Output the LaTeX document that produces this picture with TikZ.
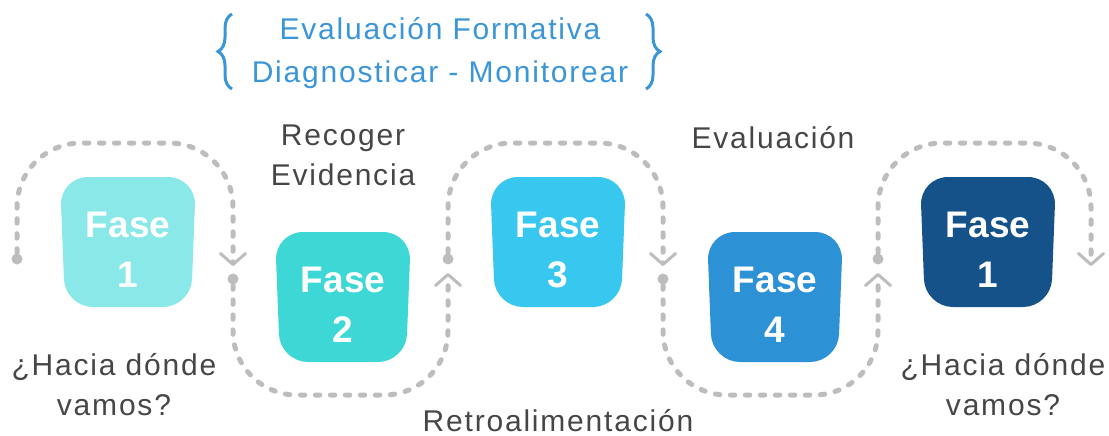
\documentclass[tikz,border=0pt]{standalone}
\usepackage{fontspec}
\usepackage{xcolor}
\usetikzlibrary{arrows.meta,decorations.pathreplacing}
\setmainfont{Liberation Sans}[LetterSpace=6]
\newfontfamily\fasefont{Liberation Sans}

\definecolor{gris}{HTML}{BDBDBD}
\definecolor{textogris}{HTML}{464646}
\definecolor{azultexto}{HTML}{3B96D9}
\definecolor{faseuno}{HTML}{8AE9E8}
\definecolor{fasedos}{HTML}{3DD8D5}
\definecolor{fasetres}{HTML}{38C8EF}
\definecolor{fasecuatro}{HTML}{2D91D5}
\definecolor{faseoscura}{HTML}{15528A}

\newcommand{\fasebox}[4]{%
  \fill[#3, rounded corners=14pt] ([shift={(-68,-65)}]#2) -- ([shift={(68,-65)}]#2)
    -- ([shift={(63,65)}]#2) -- ([shift={(-63,65)}]#2) -- cycle;
  \node[fasetexto] (#1) at ([shift={(0,8)}]#2) {Fase\\#4};
}

\begin{document}
\begin{tikzpicture}[x=0.5pt, y=-0.5pt,
    fasetexto/.style={text=white, align=center, inner sep=0pt,
      font=\fasefont\bfseries\fontsize{18.5}{25}\selectfont},
    rotulo/.style={text=textogris, align=center, inner sep=0pt, anchor=base,
      font=\fontsize{15}{20}\selectfont},
    punto/.style={circle, fill=gris, inner sep=0pt, minimum size=5.5pt},
    ruta/.style={draw=gris, line width=2.5pt, line cap=round, dash pattern=on 2.2pt off 5.3pt,
      rounded corners=32pt, -{Straight Barb[length=5.5pt, width=12.5pt, line width=1.5pt, round]}},
    llave/.style={draw=azultexto, line width=1.5pt, decorate,
      decoration={brace, amplitude=7pt}}]
  \useasboundingbox (0,0) rectangle (1109,435);

  \node[text=azultexto, align=center, inner sep=0pt, anchor=base,
    font=\fontsize{15}{21.5}\selectfont] (formativa) at (440,82)
    {Evaluación Formativa\\Diagnosticar - Monitorear};
  \draw[llave] (232,89) -- (232,14);
  \draw[llave] (646,14) -- (646,89);

  \fasebox{fase1}{128,242}{faseuno}{1}
  \fasebox{fase2}{343,297}{fasedos}{2}
  \fasebox{fase3}{558,242}{fasetres}{3}
  \fasebox{fase4}{775,297}{fasecuatro}{4}
  \fasebox{fase5}{988,242}{faseoscura}{1}

  \node[punto] (p1) at (17,259) {};
  \node[punto] (p2) at (233,279) {};
  \node[punto] (p3) at (448,259) {};
  \node[punto] (p4) at (663,279) {};
  \node[punto] (p5) at (878,259) {};
  \coordinate (t1) at (233,266);
  \coordinate (t2) at (448,273);
  \coordinate (t3) at (663,266);
  \coordinate (t4) at (878,273);
  \coordinate (t5) at (1091,266);

  \draw[ruta] (p1) -- (p1 |- 0,143) -- (t1 |- 0,143) -- (t1);
  \draw[ruta] (p2) -- (p2 |- 0,395) -- (t2 |- 0,395) -- (t2);
  \draw[ruta] (p3) -- (p3 |- 0,143) -- (t3 |- 0,143) -- (t3);
  \draw[ruta] (p4) -- (p4 |- 0,395) -- (t4 |- 0,395) -- (t4);
  \draw[ruta] (p5) -- (p5 |- 0,143) -- (t5 |- 0,143) -- (t5);

  \node[rotulo] (recoger) at (343,185) {Recoger\\Evidencia};
  \node[rotulo] (evaluacion) at (773,148) {Evaluación};
  \node[rotulo] (retro) at (558,431) {Retroalimentación};
  \node[rotulo] (hacia1) at (114,415) {¿Hacia dónde\\vamos?};
  \node[rotulo] (hacia2) at (1003,415) {¿Hacia dónde\\vamos?};
\end{tikzpicture}
\end{document}
